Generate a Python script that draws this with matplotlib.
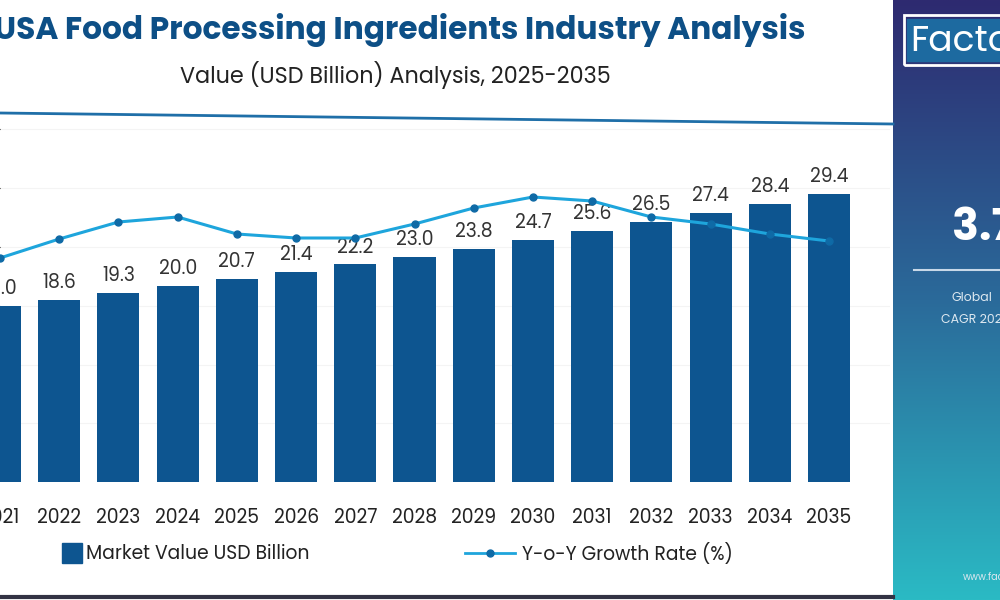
import numpy as np
import matplotlib.pyplot as plt
from matplotlib.lines import Line2D
from matplotlib.colors import LinearSegmentedColormap

# data
years = [str(y) for y in range(2021, 2036)]
market_value = [18.0, 18.6, 19.3, 20.0, 20.7, 21.4, 22.2, 23.0, 23.8, 24.7, 25.6, 26.5, 27.4, 28.4, 29.4]
growth_rate = [2.1, 3.05, 3.9, 4.15, 3.3, 3.1, 3.1, 3.8, 4.6, 5.15, 4.95, 4.15, 3.8, 3.3, 2.95]

bar_color = '#0d5590'
line_color = '#1ea5dc'
W, H = 1000, 600

fig = plt.figure(figsize=(10, 6), dpi=100)
plt.rcParams['font.family'] = ['Poppins', 'Open Sans', 'DejaVu Sans']

ax = fig.add_axes([0, 100 / H, 890 / W, 375 / H])
x = np.arange(len(years))
ax.bar(x, market_value, width=0.71, color=bar_color)
for xi, v in zip(x, market_value):
    ax.text(xi, v + 0.7, '%.1f' % v, ha='center', va='bottom', fontsize=13.5, color='#333333')
ax.set_xlim(0.022, 15.03)
ax.set_ylim(-1.8, 36.4)
ax.set_xticks(x)
ax.set_xticklabels(years, fontsize=13.5, color='#222222')
ax.tick_params(axis='x', length=0, pad=6)
ax.set_yticks([6, 12, 18, 24, 30, 36])
ax.yaxis.grid(True, color='#f4f4f4', lw=0.8)
ax.set_axisbelow(True)
ax.tick_params(axis='y', left=False, labelleft=False)
for s in ax.spines.values():
    s.set_visible(False)

ax2 = ax.twinx()
ax2.plot(x, growth_rate, color=line_color, lw=2.2, marker='o', ms=5,
         markerfacecolor='#0f6aa6', markeredgecolor='#0f6aa6')
ax2.set_ylim(-10, 8.75)
ax2.axis('off')

# titles
fig.text(805 / W, 1 - 30 / H, 'USA Food Processing Ingredients Industry Analysis',
         ha='right', va='center', fontsize=22.5, fontweight='bold', color='#0d4f86')
fig.text(395 / W, 1 - 75 / H, 'Value (USD Billion) Analysis, 2025-2035',
         ha='center', va='center', fontsize=16, color='#222222')
fig.add_artist(Line2D([0, 893 / W], [1 - 113 / H, 1 - 124 / H], color='#1f6fa8', lw=2))

# legend
fig.patches.append(plt.Rectangle((62 / W, 1 - 563 / H), 20 / W, 20 / H,
                                 transform=fig.transFigure, color=bar_color))
fig.text(86 / W, 1 - 554 / H, 'Market Value USD Billion', va='center', fontsize=13.5, color='#222222')
fig.add_artist(Line2D([465 / W, 515 / W], [1 - 553 / H] * 2, color=line_color, lw=2))
fig.add_artist(Line2D([490 / W], [1 - 553 / H], marker='o', ms=5, color='#0f6aa6'))
fig.text(522 / W, 1 - 554 / H, 'Y-o-Y Growth Rate (%)', va='center', fontsize=13.5, color='#222222')
fig.add_artist(Line2D([0, 893 / W], [1 - 597 / H] * 2, color='#333344', lw=3))

# side panel with gradient
pax = fig.add_axes([893 / W, 0, 107 / W, 1])
grad = np.linspace(0, 1, 256).reshape(-1, 1)
cmap = LinearSegmentedColormap.from_list('p', ['#2e2a70', '#2a6a9a', '#2bbac4'])
pax.imshow(grad, aspect='auto', cmap=cmap, extent=[0, 1, 0, 1])
pax.set_xlim(0, 1)
pax.set_ylim(0, 1)
pax.axis('off')
pax.add_patch(plt.Rectangle((0.1, 1 - 65 / H), 1.0, 50 / H, fill=False, ec='white', lw=2, clip_on=True))
pax.add_patch(plt.Rectangle((0.13, 1 - 61 / H), 1.0, 42 / H, color='#1d6aa0', clip_on=True))
pax.text(0.16, 1 - 42 / H, 'Factors', fontsize=26, color='white', va='center', clip_on=True)
pax.text(0.55, 1 - 230 / H, '3.7%', fontsize=32, fontweight='bold', color='white', va='center', clip_on=True)
pax.plot([0.2, 1.0], [1 - 270 / H] * 2, color='#c8d8e8', lw=1.5)
pax.text(0.55, 1 - 298 / H, 'Global', fontsize=9, color='#dde8f0', va='center', clip_on=True)
pax.text(0.45, 1 - 320 / H, 'CAGR 2025', fontsize=9, color='#dde8f0', va='center', clip_on=True)
pax.text(0.65, 1 - 578 / H, 'www.factmr', fontsize=7, color='#dde8f0', va='center', clip_on=True)

fig.savefig('out.png', dpi=100)
